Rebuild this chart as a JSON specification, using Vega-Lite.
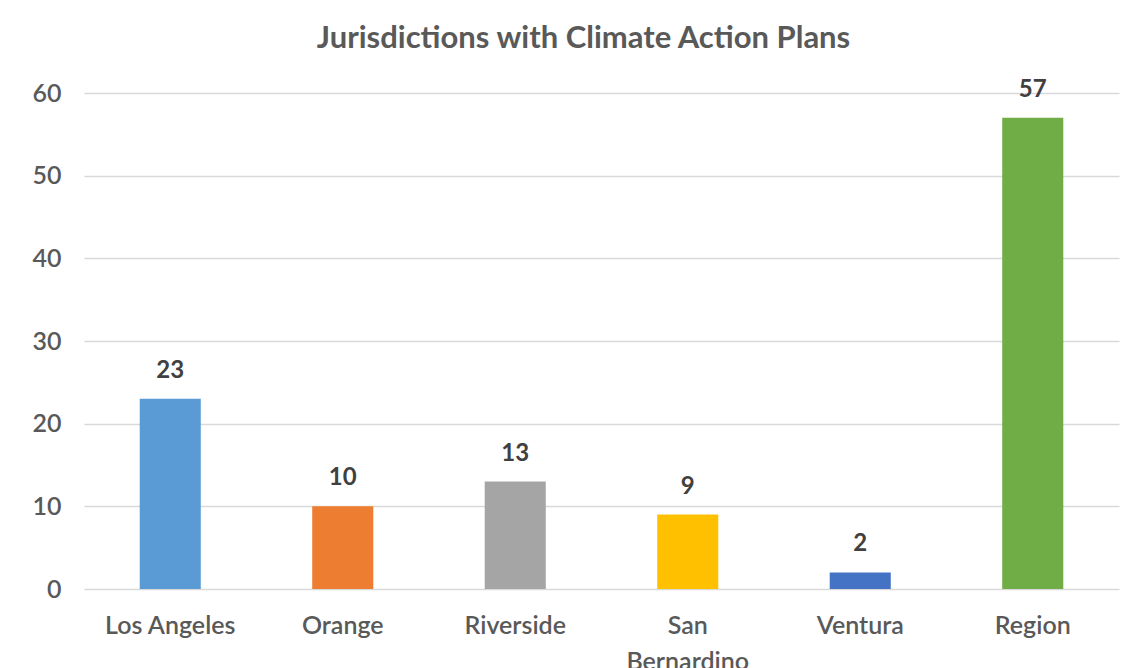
{
  "$schema": "https://vega.github.io/schema/vega-lite/v6.json",
  "width": 1035,
  "height": 496,
  "autosize": "none",
  "padding": {"left": 84, "top": 93, "right": 24, "bottom": 79},
  "background": "white",
  "title": {
    "text": "Jurisdictions with Climate Action Plans",
    "font": "Lato",
    "fontSize": 31,
    "fontWeight": "bold",
    "color": "#595959",
    "anchor": "middle",
    "dx": -18,
    "offset": 23
  },
  "data": {
    "values": [
      {"county": "Los Angeles", "plans": 23, "color": "#5B9BD5"},
      {"county": "Orange", "plans": 10, "color": "#ED7D31"},
      {"county": "Riverside", "plans": 13, "color": "#A5A5A5"},
      {"county": "San Bernardino", "plans": 9, "color": "#FFC000"},
      {"county": "Ventura", "plans": 2, "color": "#4472C4"},
      {"county": "Region", "plans": 57, "color": "#70AD47"}
    ]
  },
  "encoding": {
    "x": {
      "field": "county",
      "type": "nominal",
      "sort": null,
      "scale": {"paddingInner": 0.646, "paddingOuter": 0.323},
      "axis": {
        "title": null,
        "labelAngle": 0,
        "domain": false,
        "ticks": false,
        "labelPadding": 24,
        "labelFont": "Lato",
        "labelFontSize": 25,
        "labelFontWeight": 600,
        "labelColor": "#595959",
        "labelLineHeight": 36,
        "labelExpr": "datum.value == 'San Bernardino' ? ['San', 'Bernardino'] : datum.value"
      }
    },
    "y": {
      "field": "plans",
      "type": "quantitative",
      "scale": {"domain": [0, 60], "nice": false},
      "axis": {
        "title": null,
        "values": [0, 10, 20, 30, 40, 50, 60],
        "domain": false,
        "ticks": false,
        "labelPadding": 23,
        "labelFont": "Lato",
        "labelFontSize": 25,
        "labelFontWeight": 600,
        "labelColor": "#595959",
        "gridColor": "#D9D9D9",
        "gridWidth": 1.5
      }
    }
  },
  "layer": [
    {
      "mark": {"type": "bar"},
      "encoding": {
        "color": {"field": "color", "type": "nominal", "scale": null}
      }
    },
    {
      "mark": {
        "type": "text",
        "baseline": "alphabetic",
        "dy": -21,
        "font": "Lato",
        "fontSize": 24,
        "fontWeight": "bold",
        "color": "#404040"
      },
      "encoding": {
        "text": {"field": "plans", "type": "quantitative"}
      }
    }
  ],
  "config": {
    "view": {"stroke": null}
  }
}
